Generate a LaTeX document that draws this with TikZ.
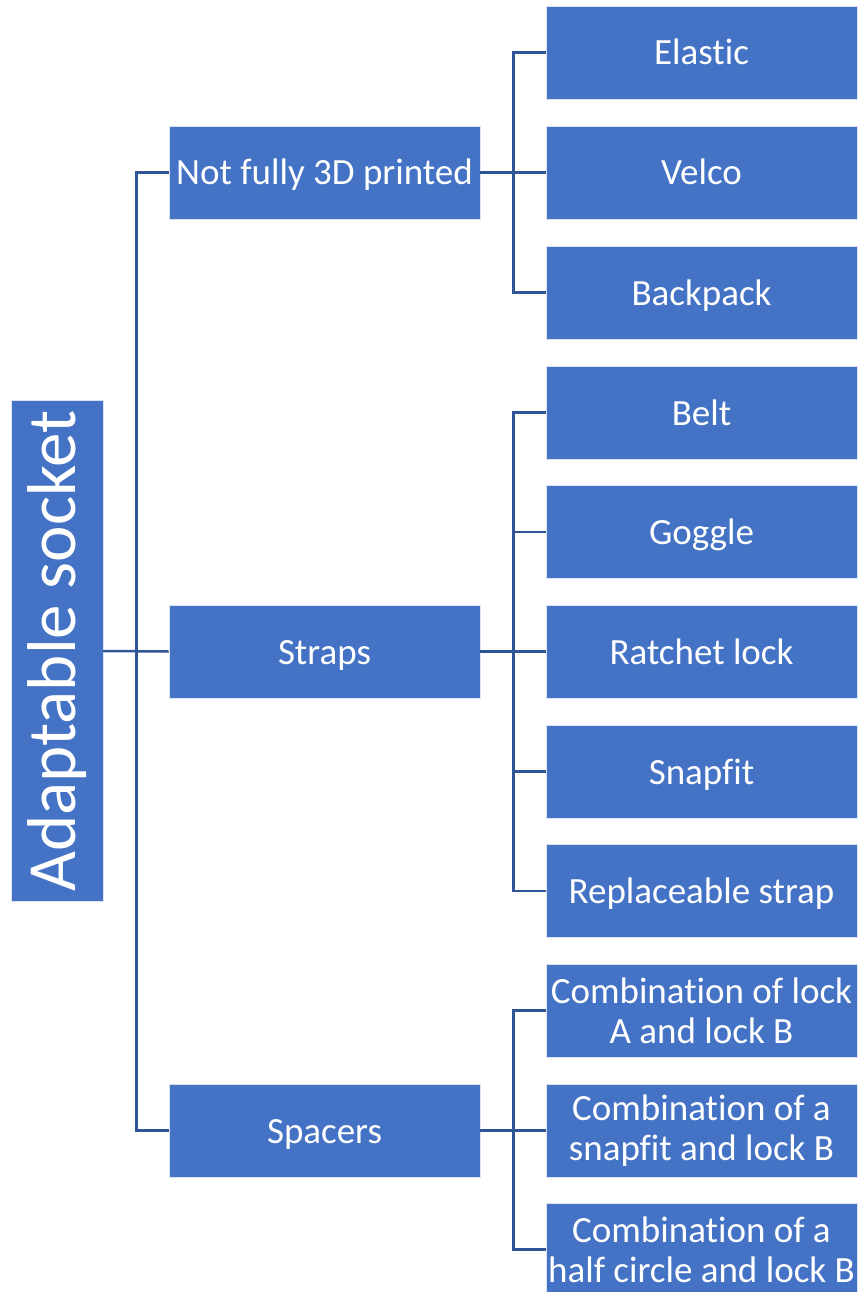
\documentclass[tikz,border=0pt]{standalone}
\usepackage{fontspec}
\setmainfont[Ligatures=NoCommon]{Carlito}
\definecolor{boxblue}{HTML}{4472C4}
\definecolor{linkblue}{HTML}{2F5597}
\tikzset{
    catbox/.style={fill=boxblue, draw=white!80!boxblue, line width=0.8pt, text=white,
        minimum width=311pt, minimum height=93pt, inner sep=0pt, align=center,
        font=\fontsize{37}{40}\selectfont},
    onebox/.style={catbox, text height=29pt, text depth=4pt},
    rootbox/.style={catbox, minimum width=92pt, minimum height=501pt,
        font=\fontsize{69}{76}\selectfont},
    link/.style={linkblue, line width=2.5pt}
}

\begin{document}
\begin{tikzpicture}[x=1pt,y=-1pt]
        \useasboundingbox (0,0) rectangle (859,1292);
        % Below nodes are the boxes.
            \node[rootbox] (root) at (57,651) {\rotatebox{90}{Adaptable socket}};
            \node[onebox] (notfull) at (324.5,172.5) {Not fully 3D printed};
            \node[onebox] (straps) at (324.5,651.5) {Straps};
            \node[onebox] (spacers) at (324.5,1130.5) {Spacers};
            \node[onebox] (elastic) at (701.5,52.5) {Elastic};
            \node[onebox] (velco) at (701.5,172.5) {Velco};
            \node[onebox] (backpack) at (701.5,292.5) {Backpack};
            \node[onebox] (belt) at (701.5,412.5) {Belt};
            \node[onebox] (goggle) at (701.5,532) {Goggle};
            \node[onebox] (ratchet) at (701.5,651.5) {Ratchet lock};
            \node[onebox] (snapfit) at (701.5,771.5) {Snapfit};
            \node[onebox] (replace) at (701.5,891) {Replaceable strap};
            \node[catbox] (combab) at (701.5,1010.5) {Combination of lock\\A and lock B};
            \node[catbox] (combsnap) at (701.5,1130.5) {Combination of a\\snapfit and lock B};
            \node[catbox] (combhalf) at (701.5,1249.5) {Combination of a\\half circle and lock B};
        % This draws the connectors.
            \draw[link] (root.east) -- ++(33,0) |- (notfull.west);
            \draw[link] (root.east) -- (straps.west);
            \draw[link] (root.east) -- ++(33,0) |- (spacers.west);
            \draw[link] (notfull.east) -- ++(33,0) |- (elastic.west);
            \draw[link] (notfull.east) -- (velco.west);
            \draw[link] (notfull.east) -- ++(33,0) |- (backpack.west);
            \draw[link] (straps.east) -- ++(33,0) |- (belt.west);
            \draw[link] (straps.east) -- ++(33,0) |- (goggle.west);
            \draw[link] (straps.east) -- (ratchet.west);
            \draw[link] (straps.east) -- ++(33,0) |- (snapfit.west);
            \draw[link] (straps.east) -- ++(33,0) |- (replace.west);
            \draw[link] (spacers.east) -- ++(33,0) |- (combab.west);
            \draw[link] (spacers.east) -- (combsnap.west);
            \draw[link] (spacers.east) -- ++(33,0) |- (combhalf.west);
    \end{tikzpicture}
\end{document}
